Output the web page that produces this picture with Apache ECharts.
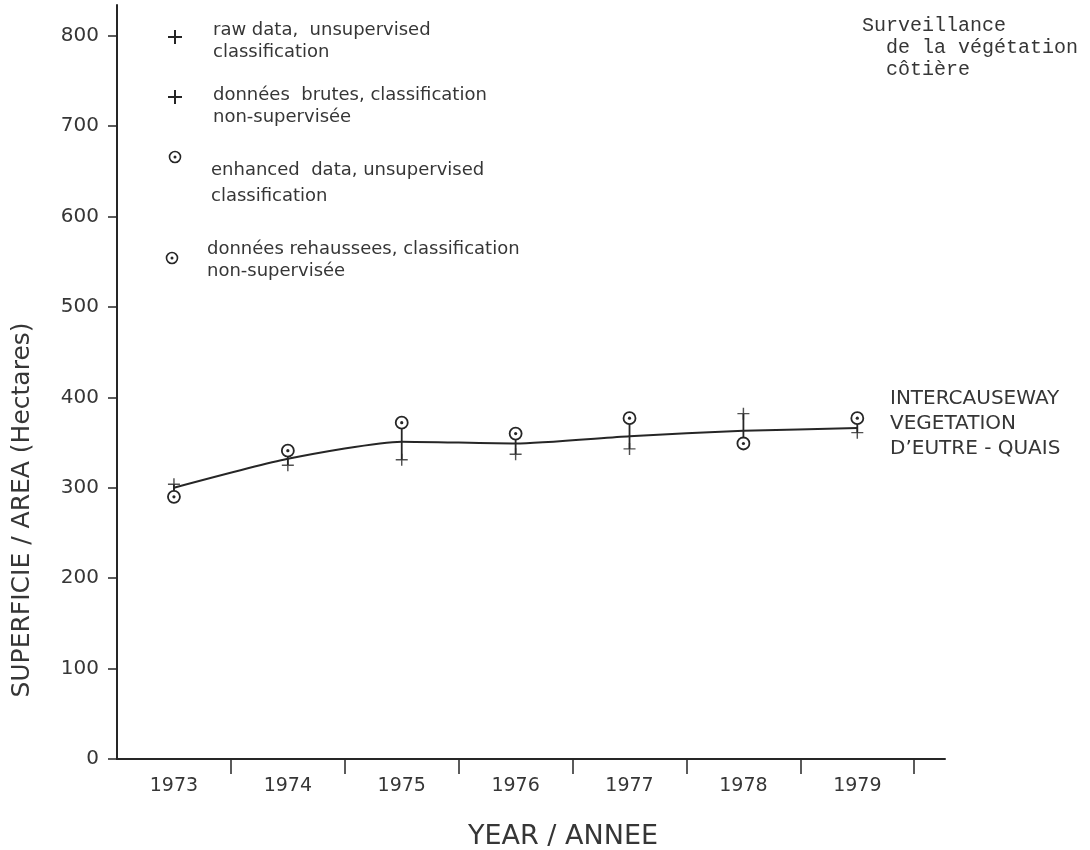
<!DOCTYPE html>
<html>
<head>
<meta charset="utf-8">
<script src="https://cdn.jsdelivr.net/npm/echarts@6/dist/echarts.min.js"></script>
<style>html,body{margin:0;padding:0;background:#fff}#c{width:1090px;height:850px}</style>
</head>
<body>
<div id="c"></div>
<script>
// ---- data ----
var years = [1973, 1974, 1975, 1976, 1977, 1978, 1979];
var rawData = [304, 325, 331, 337, 343, 382, 361];        // + raw data, unsupervised
var enhancedData = [290, 341, 372, 360, 377, 349, 377];   // ⊙ enhanced data, unsupervised
var trendData = [300, 332, 351, 349, 357, 363, 366];      // fitted curve
var yTicks = [0, 100, 200, 300, 400, 500, 600, 700, 800];
var xTickBounds = [1973.5, 1974.5, 1975.5, 1976.5, 1977.5, 1978.5, 1979.5];

var INK = '#262626';
var TXT = '#363636';
var FONT = 'DejaVu Sans';

function pairs(vals) { return years.map(function (y, i) { return [y, vals[i]]; }); }

var chart = echarts.init(document.getElementById('c'), null, { renderer: 'canvas' });

var plusPath = 'path://M-0.12,-1H0.12V1H-0.12ZM-1,-0.12H1V0.12H-1Z';

function legendPlus(x, y) {
  return { type: 'group', x: x, y: y, children: [
    { type: 'rect', shape: { x: -1, y: -7, width: 2, height: 14 }, style: { fill: INK } },
    { type: 'rect', shape: { x: -7, y: -1, width: 14, height: 2 }, style: { fill: INK } }
  ]};
}
function legendCirc(x, y) {
  return { type: 'group', x: x, y: y, children: [
    { type: 'circle', shape: { cx: 0, cy: 0, r: 5.5 }, style: { fill: '#fff', stroke: INK, lineWidth: 1.6 } },
    { type: 'circle', shape: { cx: 0, cy: 0, r: 1.5 }, style: { fill: INK } }
  ]};
}
function legendText(x, y, t, lh) {
  return { type: 'text', x: x, y: y, style: { text: t, fill: TXT, font: '18px "' + FONT + '"', lineHeight: lh || 22, textVerticalAlign: 'top' } };
}

var option = {
  backgroundColor: '#fff',
  animation: false,
  grid: { left: 117, right: 145, top: 5, bottom: 91, outerBoundsMode: 'none', containLabel: false },
  xAxis: {
    type: 'value', min: 1972.5, max: 1979.77,
    axisLine: { show: true, lineStyle: { color: INK, width: 2 } },
    axisTick: { show: true, inside: false, length: 15, lineStyle: { color: INK, width: 1.5 }, customValues: xTickBounds },
    axisLabel: { customValues: years, formatter: function (v) { return String(v); }, margin: 18, fontFamily: FONT, fontSize: 19, color: TXT },
    splitLine: { show: false }
  },
  yAxis: {
    type: 'value', min: 0, max: 834,
    axisLine: { show: true, lineStyle: { color: INK, width: 2 } },
    axisTick: { show: true, inside: false, length: 9, lineStyle: { color: INK, width: 1.5 }, customValues: yTicks },
    axisLabel: { customValues: yTicks, margin: 18, fontFamily: FONT, fontSize: 20, color: TXT },
    splitLine: { show: false }
  },
  series: [
    {
      type: 'custom', name: 'connector', z: 1,
      data: years.map(function (y, i) { return [y, rawData[i], enhancedData[i]]; }),
      renderItem: function (params, api) {
        var a = api.coord([api.value(0), api.value(1)]);
        var b = api.coord([api.value(0), api.value(2)]);
        return { type: 'line', shape: { x1: a[0], y1: a[1], x2: b[0], y2: b[1] }, style: { stroke: INK, lineWidth: 1.8 } };
      }
    },
    {
      type: 'line', name: 'trend', z: 2, smooth: 0.2, symbol: 'none',
      data: pairs(trendData),
      lineStyle: { color: INK, width: 2 }
    },
    {
      type: 'scatter', name: 'raw data, unsupervised classification', z: 3,
      data: pairs(rawData), symbol: plusPath, symbolSize: 12,
      itemStyle: { color: INK }
    },
    {
      type: 'custom', name: 'enhanced data, unsupervised classification', z: 4,
      data: pairs(enhancedData),
      renderItem: function (params, api) {
        var p = api.coord([api.value(0), api.value(1)]);
        return { type: 'group', children: [
          { type: 'circle', shape: { cx: p[0], cy: p[1], r: 6 }, style: { fill: '#fff', stroke: INK, lineWidth: 1.8 } },
          { type: 'circle', shape: { cx: p[0], cy: p[1], r: 1.6 }, style: { fill: INK } }
        ]};
      }
    }
  ],
  graphic: [
    { type: 'text', x: 22, y: 510, rotation: Math.PI / 2,
      style: { text: 'SUPERFICIE / AREA (Hectares)', fill: TXT, font: '25px "' + FONT + '"', align: 'center', verticalAlign: 'middle' } },
    { type: 'text', x: 563, y: 837,
      style: { text: 'YEAR / ANNEE', fill: TXT, font: '27px "' + FONT + '"', align: 'center', verticalAlign: 'middle' } },
    legendPlus(175, 37), legendText(213, 19, 'raw data,  unsupervised\nclassification'),
    legendPlus(175, 97), legendText(213, 84, 'données  brutes, classification\nnon-supervisée'),
    legendCirc(175, 157), legendText(211, 157, 'enhanced  data, unsupervised\nclassification', 26),
    legendCirc(172, 258), legendText(207, 238, 'données rehaussees, classification\nnon-supervisée'),
    { type: 'text', x: 862, y: 15, style: { text: 'Surveillance\n  de la végétation\n  côtière', fill: TXT, font: '20px "Liberation Mono"', lineHeight: 22, textVerticalAlign: 'top' } },
    { type: 'text', x: 890, y: 386, style: { text: 'INTERCAUSEWAY\nVEGETATION\nD\u2019EUTRE - QUAIS', fill: TXT, font: '20px "' + FONT + '"', lineHeight: 25, textVerticalAlign: 'top' } }
  ]
};
chart.setOption(option);
</script>
</body>
</html>
